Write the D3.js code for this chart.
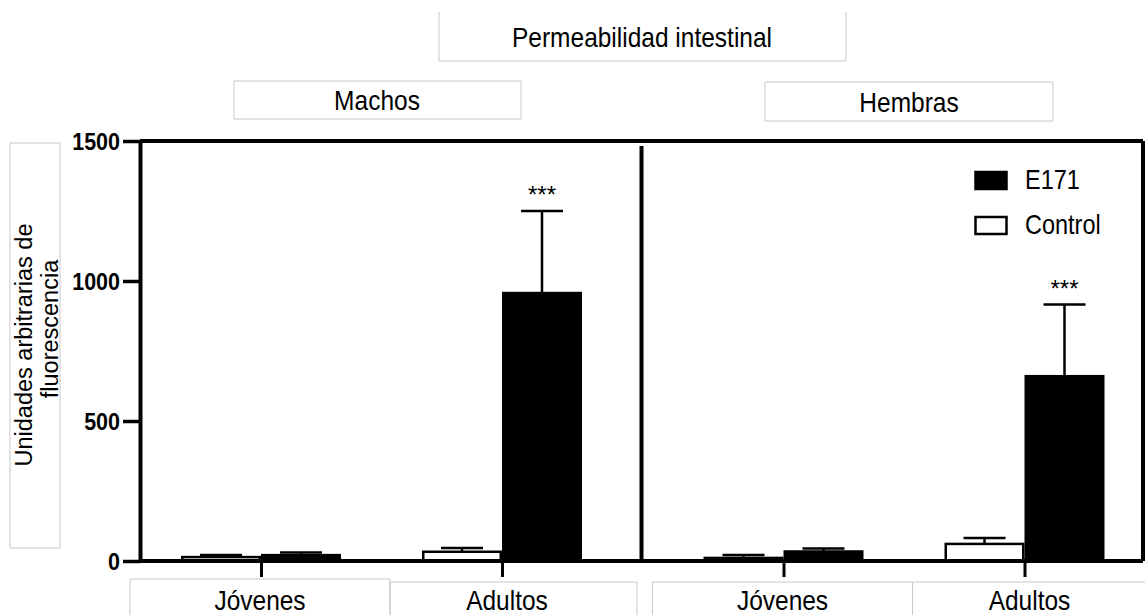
<!DOCTYPE html>
<html>
<head>
<meta charset="utf-8">
<script src="https://cdn.jsdelivr.net/npm/d3@7"></script>
<style>
body{margin:0;background:#fff}
text{font-family:"Liberation Sans",Arial,sans-serif;fill:#000}
</style>
</head>
<body>
<svg id="chart" width="1145" height="615"></svg>
<script>
// data
const sexes=["Machos","Hembras"];
const ages=["Jóvenes","Adultos"];
const seriesNames=["E171","Control"];
// order: Machos-Jóvenes, Machos-Adultos, Hembras-Jóvenes, Hembras-Adultos
const e171Mean=[21,957,34,660];
const e171Err=[9,293,11,256];
const controlMean=[14,33,11,61];
const controlErr=[7,13,10,21];
const stars=["","***","","***"];
const yTicks=[0,500,1000,1500];
const title="Permeabilidad intestinal";
const yLabel=["Unidades arbitrarias de","fluorescencia"];

let rows=[];
for(let i=0;i<4;i++){
	rows.push({sex:sexes[Math.floor(i/2)],age:ages[i%2],
		E171:e171Mean[i],E171err:e171Err[i],
		Control:controlMean[i],Controlerr:controlErr[i],star:stars[i]});
}

const svg=d3.select("#chart");
const stretch=1.15; // text in the figure is a bit taller than Arial

// light grey boxes around the text blocks
function box(x0,y0,x1,y1,noTop){
	let p=noTop
		? "M"+x0+","+y0+"V"+y1+"H"+x1+"V"+y0
		: "M"+x0+","+y0+"H"+x1+"V"+y1+"H"+x0+"Z";
	svg.append("path").attr("d",p).attr("fill","none")
		.attr("stroke","#c8c8c8").attr("stroke-width",1);
}
function label(txt,x,y,size,anchor,weight){
	svg.append("text")
		.attr("transform","translate("+x+","+y+") scale(1,"+stretch+")")
		.attr("text-anchor",anchor||"middle")
		.attr("font-size",size)
		.attr("font-weight",weight||"normal")
		.text(txt);
}

// scales
let y=d3.scaleLinear().domain([0,1500]).range([561,141]);
let panel=d3.scaleBand().domain(sexes).range([140,1143]);
let inner={
	Machos:d3.scalePoint().domain(ages).range([121,362]),
	Hembras:d3.scalePoint().domain(ages).range([142,383])
};
const key=d=>d.sex+"|"+d.age;
let x=d3.scaleOrdinal().domain(rows.map(key))
	.range(rows.map(d=>panel(d.sex)+inner[d.sex](d.age)));
let sub=d3.scaleBand().domain(["Control","E171"]).range([-80,80]);

// title boxes
box(439,12,846,61,true);
label(title,642,47,24.5);
box(234,81,521,119);
label("Machos",377,110,24.5);
box(765,82,1053,121);
label("Hembras",909,112,24.5);

// y label box + rotated text
box(10,143,60,548);
let yl=svg.append("text")
	.attr("transform","translate(35,345) rotate(-90)")
	.attr("text-anchor","middle")
	.attr("font-size",23.5);
yl.append("tspan").attr("x",0).attr("y",-3).text(yLabel[0]);
yl.append("tspan").attr("x",16).attr("y",23).text(yLabel[1]);

// bars
let g=svg.append("g");
let bars=[];
rows.forEach(d=>{
	["Control","E171"].forEach(s=>{
		bars.push({k:key(d),s:s,v:d[s],e:d[s+"err"]});
	});
});
g.selectAll("rect.bar")
	.data(bars)
	.enter()
	.append("rect")
	.attr("class","bar")
	.attr("x",d=>x(d.k)+sub(d.s)+1.25)
	.attr("width",sub.bandwidth()-2.5)
	.attr("y",d=>y(d.v))
	.attr("height",d=>y(0)-y(d.v))
	.attr("fill",d=>d.s=="E171"?"#000":"#fff")
	.attr("stroke","#000")
	.attr("stroke-width",2.5);

// error bars (upper only)
let cx=d=>x(d.k)+sub(d.s)+sub.bandwidth()/2;
g.selectAll("line.err")
	.data(bars)
	.enter()
	.append("line")
	.attr("x1",cx).attr("x2",cx)
	.attr("y1",d=>y(d.v)).attr("y2",d=>y(d.v+d.e))
	.attr("stroke","#000").attr("stroke-width",2.5);
g.selectAll("line.cap")
	.data(bars)
	.enter()
	.append("line")
	.attr("x1",d=>cx(d)-21).attr("x2",d=>cx(d)+21)
	.attr("y1",d=>y(d.v+d.e)).attr("y2",d=>y(d.v+d.e))
	.attr("stroke","#000").attr("stroke-width",2.5);

// significance stars
rows.filter(d=>d.star).forEach(d=>{
	let b={k:key(d),s:"E171"};
	svg.append("text")
		.attr("x",cx(b))
		.attr("y",y(d.E171+d.E171err)-8)
		.attr("text-anchor","middle")
		.attr("font-size",24)
		.text(d.star);
});

// frame
svg.append("line").attr("x1",140).attr("x2",1143).attr("y1",y(1500)).attr("y2",y(1500))
	.attr("stroke","#000").attr("stroke-width",4);
svg.append("line").attr("x1",1143).attr("x2",1143).attr("y1",y(1500)).attr("y2",y(0))
	.attr("stroke","#000").attr("stroke-width",4);
svg.append("line").attr("x1",140).attr("x2",1143).attr("y1",y(0)).attr("y2",y(0))
	.attr("stroke","#000").attr("stroke-width",4);
svg.append("line").attr("x1",panel("Hembras")).attr("x2",panel("Hembras"))
	.attr("y1",146).attr("y2",y(0))
	.attr("stroke","#000").attr("stroke-width",4);

// y axis
let yAxis=svg.append("g")
	.attr("transform","translate(140,0)")
	.call(d3.axisLeft(y).tickValues(yTicks).tickFormat(d3.format("d"))
		.tickSize(17).tickPadding(3).tickSizeOuter(0));
yAxis.select(".domain").attr("stroke-width",4);
yAxis.selectAll(".tick line").attr("stroke-width",3.5);
yAxis.selectAll(".tick text")
	.attr("font-size",21.5).attr("font-weight","bold")
	.attr("font-family","Liberation Sans,Arial,sans-serif")
	.attr("fill","#000")
	.attr("dy",null).attr("y",7.5)
	.attr("transform","scale(1,"+stretch+")");

// x axis ticks
let xAxis=svg.append("g")
	.attr("transform","translate(0,"+y(0)+")")
	.call(d3.axisBottom(x).tickSize(16).tickFormat(""));
xAxis.select(".domain").remove();
xAxis.selectAll(".tick line").attr("stroke-width",3);

// category boxes and labels
rows.forEach((d,i)=>{
	let t=x(key(d));
	if(d.age=="Jóvenes") box(t-131,579+(i>1?3:0),t+129,640);
	else box(t-112,582,t+135,640);
	label(d.age,t+(d.age=="Adultos"?5:-1),610,24.5);
});

// legend
let leg=svg.append("g");
leg.selectAll("rect")
	.data(seriesNames)
	.enter()
	.append("rect")
	.attr("x",975.5)
	.attr("y",(d,i)=>172+i*45)
	.attr("width",31)
	.attr("height",17)
	.attr("fill",d=>d=="E171"?"#000":"#fff")
	.attr("stroke","#000")
	.attr("stroke-width",2.5);
seriesNames.forEach((s,i)=>label(s,1025,189+i*45,23.5,"start"));
</script>
</body>
</html>
